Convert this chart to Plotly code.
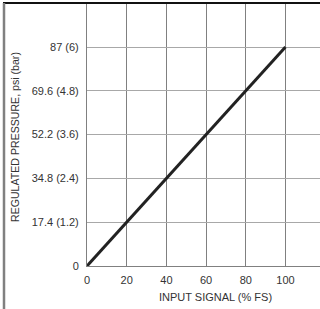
import plotly.graph_objects as go

input_signal = [0, 100]
pressure_psi = [0, 87]
x_ticks = [0, 20, 40, 60, 80, 100]
y_ticks = [0, 17.4, 34.8, 52.2, 69.6, 87]
y_tick_labels = ["0", "17.4 (1.2)", "34.8 (2.4)", "52.2 (3.6)", "69.6 (4.8)", "87 (6)"]

W, H = 320, 309
L, R, T, B = 87, 0, 3, 43
pw, ph = W - L - R, H - T - B

fig = go.Figure()
fig.add_trace(go.Scatter(x=input_signal, y=pressure_psi, mode="lines",
                         line=dict(color="#222222", width=3), showlegend=False,
                         hoverinfo="skip"))

font = dict(family="Liberation Sans, Arial, sans-serif", size=11, color="#333333")

fig.update_layout(
    width=W, height=H,
    margin=dict(l=L, r=R, t=T, b=B),
    paper_bgcolor="white", plot_bgcolor="white",
    font=font,
    xaxis=dict(range=[0, 117.4], tickvals=x_ticks, showgrid=True, gridcolor="#808080",
               gridwidth=1, zeroline=False, showline=True, linecolor="#808080",
               linewidth=1, ticks="", tickfont=font, fixedrange=True,
               ticklabelstandoff=4),
    yaxis=dict(range=[0, 104.5], tickvals=y_ticks, ticktext=y_tick_labels,
               showgrid=True, gridcolor="#a8a8a8", gridwidth=1, zeroline=False,
               showline=True, linecolor="#808080", linewidth=1, ticks="",
               ticklen=0, tickfont=font, fixedrange=True, ticklabelstandoff=5),
    shapes=[
        dict(type="line", xref="paper", yref="paper",
             x0=(3 - L) / pw, x1=1.0, y0=1, y1=1,
             line=dict(color="#111111", width=2)),
        dict(type="line", xref="paper", yref="paper",
             x0=(4 - L) / pw, x1=(4 - L) / pw, y0=1, y1=(-(B)) / ph,
             line=dict(color="#808080", width=2.5)),
    ],
    annotations=[
        dict(text="INPUT SIGNAL (% FS)", xref="paper", yref="paper",
             x=(215 - L) / pw, y=(-(297 - (H - B))) / ph, showarrow=False,
             xanchor="center", yanchor="middle",
             font=dict(family="Liberation Sans, Arial, sans-serif", size=11, color="#333333")),
        dict(text="REGULATED PRESSURE, psi (bar)", xref="paper", yref="paper",
             x=(15 - L) / pw, y=((H - B) - 137) / ph, showarrow=False, textangle=-90,
             xanchor="center", yanchor="middle",
             font=dict(family="Liberation Sans, Arial, sans-serif", size=10.6, color="#333333")),
    ],
)

fig.write_html("out.html", config={"displayModeBar": False},
               post_script="document.body.style.margin='0';document.body.style.overflow='hidden';")
